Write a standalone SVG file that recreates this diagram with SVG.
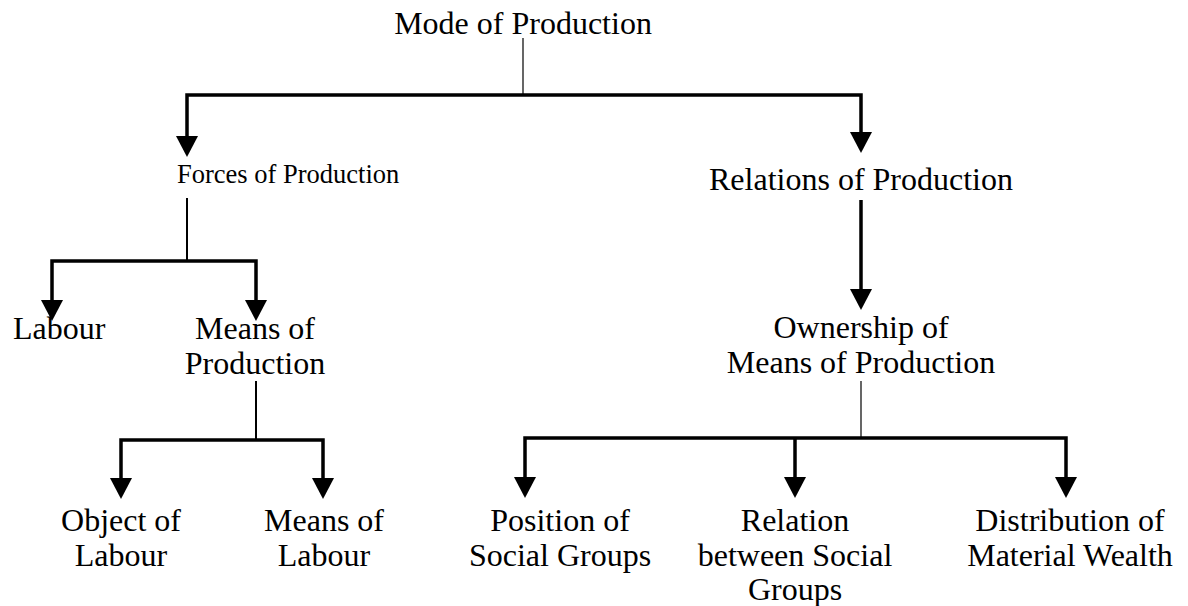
<svg xmlns="http://www.w3.org/2000/svg" width="1188" height="606" viewBox="0 0 1188 606">
<defs>
<style>
text{font-family:"Liberation Serif","Times New Roman",serif;font-size:32px;fill:#000;text-anchor:middle}
.thick{fill:none;stroke:#000;stroke-width:3.5}
.mid{fill:none;stroke:#000;stroke-width:2}
.thin{fill:none;stroke:#000;stroke-width:1.2}
</style>
<marker id="ah" markerUnits="userSpaceOnUse" markerWidth="22" markerHeight="22" refX="0" refY="11" orient="auto" viewBox="0 0 22 22">
<path d="M0,0 L21,11 L0,22 Z" fill="#000"/>
</marker>
</defs>
<rect width="1188" height="606" fill="#fff"/>
<g id="connectors">
<path class="thin" d="M523,38 V95"/>
<path class="thick" d="M523,95 H187 V136" marker-end="url(#ah)"/>
<path class="thick" d="M523,95 H861 V132" marker-end="url(#ah)"/>
<path class="mid" d="M187,198 V261"/>
<path class="thick" d="M187,261 H52 V300" marker-end="url(#ah)"/>
<path class="thick" d="M187,261 H256 V300" marker-end="url(#ah)"/>
<path class="thick" d="M861,200 V289" marker-end="url(#ah)"/>
<path class="mid" d="M256,381 V440"/>
<path class="thick" d="M256,440 H121 V478" marker-end="url(#ah)"/>
<path class="thick" d="M256,440 H323 V478" marker-end="url(#ah)"/>
<path class="thin" d="M861,381 V438"/>
<path class="thick" d="M861,438 H525 V477" marker-end="url(#ah)"/>
<path class="thick" d="M795,438 V477" marker-end="url(#ah)"/>
<path class="thick" d="M861,438 H1066 V477" marker-end="url(#ah)"/>
</g>
<g id="mode"><text x="523" y="34">Mode of Production</text></g>
<g id="forces"><text x="177" y="183" style="font-size:26.5px;text-anchor:start">Forces of Production</text></g>
<g id="relations"><text x="861" y="190">Relations of Production</text></g>
<g id="labour"><text x="13" y="339" style="text-anchor:start">Labour</text></g>
<g id="means-production"><text x="255" y="339">Means of</text><text x="255" y="374">Production</text></g>
<g id="ownership"><text x="861" y="338">Ownership of</text><text x="861" y="373">Means of Production</text></g>
<g id="object-labour"><text x="121" y="531">Object of</text><text x="121" y="566">Labour</text></g>
<g id="means-labour"><text x="324" y="531">Means of</text><text x="324" y="566">Labour</text></g>
<g id="position"><text x="560" y="531">Position of</text><text x="560" y="566">Social Groups</text></g>
<g id="relation-between"><text x="795" y="531">Relation</text><text x="795" y="566">between Social</text><text x="795" y="600">Groups</text></g>
<g id="distribution"><text x="1070" y="531">Distribution of</text><text x="1070" y="566">Material Wealth</text></g>
</svg>
